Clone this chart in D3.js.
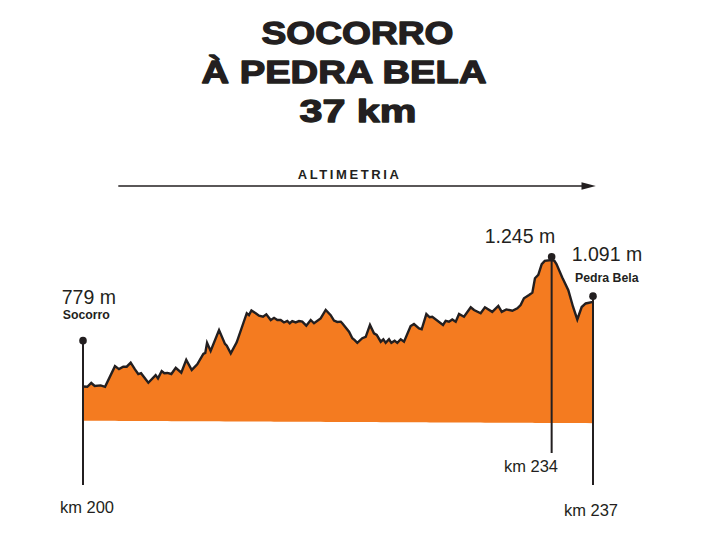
<!DOCTYPE html>
<html>
<head>
<meta charset="utf-8">
<script src="https://cdn.jsdelivr.net/npm/d3@7"></script>
<style>
  html, body { margin: 0; padding: 0; background: #fff; }
  svg { display: block; font-family: "Liberation Sans", Arial, sans-serif; }
</style>
</head>
<body>
<svg id="chart" width="709" height="551"></svg>
<script>
// ---- Data ----
const titleLines = ["SOCORRO", "À PEDRA BELA", "37 km"];
const sectionLabel = "ALTIMETRIA";

// distance along the route (km) and altitude (m), read from the profile
const km = [
  200.00, 200.31, 200.60, 200.85, 201.28, 201.60, 202.32, 202.61, 202.92, 203.17,
  203.46, 203.77, 204.01, 204.21, 204.74, 205.27, 205.44, 205.71, 205.90, 206.12,
  206.41, 206.73, 207.13, 207.49, 207.89, 208.29, 208.73, 208.87, 209.00, 209.26,
  209.87, 210.30, 210.43, 210.72, 211.15, 211.88, 212.04, 212.22, 212.53, 212.77,
  213.06, 213.30, 213.62, 213.86, 214.10, 214.34, 214.58, 214.82, 215.00, 215.18,
  215.43, 215.67, 215.91, 216.20, 216.52, 216.76, 217.24, 217.61, 217.97, 218.21,
  218.45, 218.70, 218.81, 219.30, 219.54, 219.71, 219.90, 220.26, 220.51, 220.82,
  221.11, 221.31, 221.60, 221.79, 221.96, 222.20, 222.37, 222.61, 222.80, 223.05,
  223.29, 223.77, 224.01, 224.38, 224.57, 224.91, 225.15, 225.34, 226.12, 226.31,
  226.55, 226.79, 227.04, 227.28, 227.64, 228.13, 228.37, 228.85, 229.16, 229.69,
  230.13, 230.38, 230.71, 231.15, 231.51, 231.75, 231.99, 232.36, 232.60, 232.79,
  233.03, 233.28, 233.50, 234.00, 234.20, 234.35, 234.77, 235.21, 235.55, 235.86,
  236.18, 236.47, 237.00
];
const altitude = [
  779, 778, 792, 781, 783, 778, 854, 843, 852, 852,
  867, 842, 825, 828, 793, 821, 809, 836, 828, 829,
  825, 848, 830, 877, 840, 861, 899, 903, 940, 910,
  987, 936, 929, 901, 942, 1049, 1042, 1059, 1049, 1040,
  1036, 1045, 1024, 1032, 1024, 1024, 1015, 1021, 1012, 1020,
  1015, 1020, 1018, 1003, 1024, 1012, 1030, 1061, 1042, 1022,
  1017, 1018, 1012, 981, 957, 950, 940, 957, 962, 1006,
  975, 969, 944, 953, 940, 953, 940, 948, 940, 953,
  944, 1002, 1009, 993, 990, 1046, 1034, 1036, 1006, 1021,
  1018, 1026, 1018, 1046, 1036, 1071, 1061, 1049, 1071, 1054,
  1076, 1054, 1063, 1058, 1067, 1079, 1104, 1116, 1125, 1178,
  1190, 1230, 1242, 1245, 1242, 1230, 1181, 1134, 1073, 1026,
  1072, 1085, 1091
];

// base of the filled profile (m) at start and end
const baseKm = [200, 237];
const baseAlt = [653, 644];

// marked points
const markerKm = [200, 234, 237];
const markerAlt = ["779 m", "1.245 m", "1.091 m"];
const markerName = ["Socorro", "", "Pedra Bela"];
const markerKmLabel = ["km 200", "km 234", "km 237"];
const markerPinTop = [948, 1257, 1112];   // altitude of pin dot (m)

// ---- Scales ----
const svg = d3.select("#chart");
const x = d3.scaleLinear().domain([200, 237]).range([83, 593]);
const y = d3.scaleLinear().domain([600, 1300]).range([435.1, 245.1]);
const base = d3.scaleLinear().domain(baseKm).range(baseAlt);

const profile = km.map((k, i) => ({ km: k, alt: altitude[i] }));

const ORANGE = "#F47B20";
const INK = "#231F20";

// ---- Title ----
const titleSpec = [
  { y: 44.3, cx: 357.5, w: 192 },
  { y: 83.3, cx: 344, w: 285 },
  { y: 121.7, cx: 358, w: 117 }
];
svg.append("g").selectAll("text").data(titleLines).join("text")
  .attr("x", (d, i) => titleSpec[i].cx)
  .attr("y", (d, i) => titleSpec[i].y)
  .attr("text-anchor", "middle")
  .attr("textLength", (d, i) => titleSpec[i].w)
  .attr("lengthAdjust", "spacingAndGlyphs")
  .attr("font-size", 31.5)
  .attr("font-weight", "bold")
  .attr("fill", INK)
  .attr("stroke", INK)
  .attr("stroke-width", 1.3)
  .attr("stroke-linejoin", "round")
  .text(d => d);

// ---- ALTIMETRIA arrow ----
svg.append("text")
  .attr("x", 297.7).attr("y", 179)
  .attr("font-size", 13).attr("font-weight", "bold")
  .attr("letter-spacing", 2.6)
  .attr("fill", INK)
  .text(sectionLabel);
svg.append("line")
  .attr("x1", 118.3).attr("x2", 584).attr("y1", 186).attr("y2", 186)
  .attr("stroke", INK).attr("stroke-width", 1.4);
svg.append("path")
  .attr("d", "M581.5,182.3 L595.8,186 L581.5,189.7 Z")
  .attr("fill", INK);

// ---- Profile ----
const area = d3.area()
  .x(d => x(d.km))
  .y0(d => y(base(d.km)))
  .y1(d => y(d.alt))
  .curve(d3.curveLinear);
svg.append("path").datum(profile)
  .attr("d", area)
  .attr("fill", ORANGE);

const line = d3.line().x(d => x(d.km)).y(d => y(d.alt));
svg.append("path").datum(profile)
  .attr("d", line)
  .attr("fill", "none")
  .attr("stroke", INK)
  .attr("stroke-width", 2.4)
  .attr("stroke-linejoin", "miter");

// ---- Pins ----
const pinBottom = [485, 453, 485];
const markers = markerKm.map((k, i) => ({
  km: k, alt: markerAlt[i], name: markerName[i], kmLabel: markerKmLabel[i],
  top: markerPinTop[i], bottom: pinBottom[i]
}));
const pins = svg.append("g");
pins.selectAll("line").data(markers).join("line")
  .attr("x1", d => x(d.km)).attr("x2", d => x(d.km))
  .attr("y1", d => y(d.top)).attr("y2", d => d.bottom)
  .attr("stroke", INK).attr("stroke-width", 2);
pins.selectAll("circle").data(markers).join("circle")
  .attr("cx", d => x(d.km)).attr("cy", d => y(d.top))
  .attr("r", 3.8).attr("fill", INK);

// altitude labels
const altPos = [
  { x: 61.7, y: 304, anchor: "start" },
  { x: 520, y: 243, anchor: "middle" },
  { x: 571.7, y: 260.7, anchor: "start" }
];
svg.append("g").selectAll("text").data(markers).join("text")
  .attr("x", (d, i) => altPos[i].x).attr("y", (d, i) => altPos[i].y)
  .attr("text-anchor", (d, i) => altPos[i].anchor)
  .attr("font-size", 19.5)
  .attr("fill", INK)
  .text(d => d.alt);

// place names
const namePos = [
  { x: 62.7, y: 319 },
  { x: 0, y: 0 },
  { x: 575, y: 281.7 }
];
svg.append("g").selectAll("text").data(markers.filter(d => d.name))
  .join("text")
  .attr("x", d => namePos[markers.indexOf(d)].x)
  .attr("y", d => namePos[markers.indexOf(d)].y)
  .attr("font-size", 12.3)
  .attr("font-weight", "bold")
  .attr("fill", INK)
  .text(d => d.name);

// km labels
const kmPos = [
  { x: 87, y: 513 },
  { x: 531, y: 472 },
  { x: 591, y: 516 }
];
svg.append("g").selectAll("text").data(markers).join("text")
  .attr("x", (d, i) => kmPos[i].x).attr("y", (d, i) => kmPos[i].y)
  .attr("text-anchor", "middle")
  .attr("font-size", 16.5)
  .attr("fill", INK)
  .text(d => d.kmLabel);
</script>
</body>
</html>
